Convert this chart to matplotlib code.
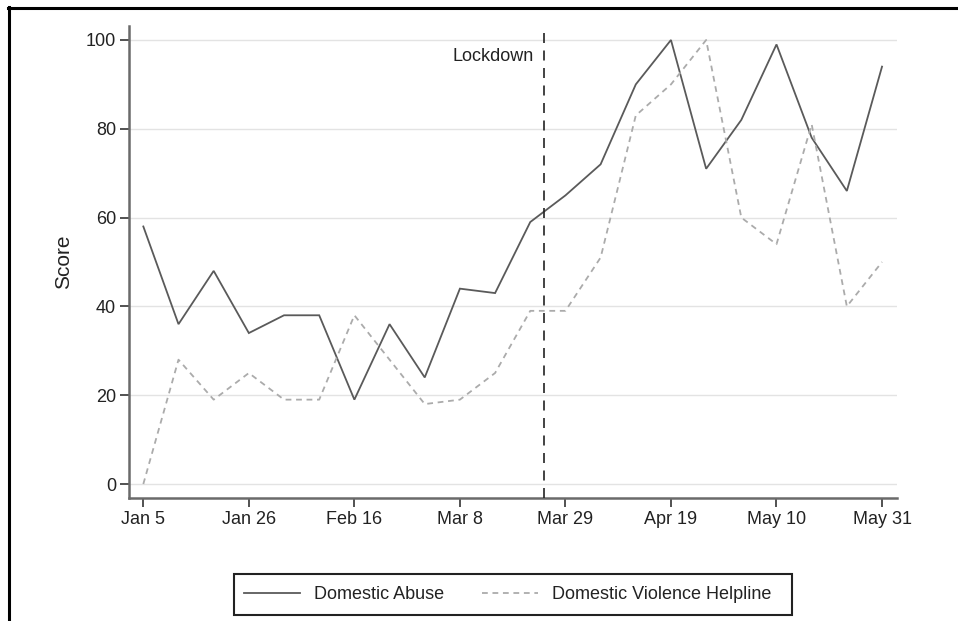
import matplotlib
matplotlib.use("Agg")
import matplotlib.pyplot as plt
import matplotlib.dates as mdates
from matplotlib.lines import Line2D
from matplotlib.patches import Rectangle
import pandas as pd

# ---- data ----
weeks = pd.date_range("2020-01-05", "2020-05-31", freq="7D")
domestic_abuse = [58, 36, 48, 34, 38, 38, 19, 36, 24, 44, 43, 59,
                  65, 72, 90, 100, 71, 82, 99, 78, 66, 94]
helpline = [0, 28, 19, 25, 19, 19, 38, 28, 18, 19, 25, 39,
            39, 51, 83, 90, 100, 60, 54, 81, 40, 50]
tick_dates = pd.to_datetime(["2020-01-05", "2020-01-26", "2020-02-16", "2020-03-08",
                             "2020-03-29", "2020-04-19", "2020-05-10", "2020-05-31"])
tick_labels = ["Jan 5", "Jan 26", "Feb 16", "Mar 8", "Mar 29", "Apr 19", "May 10", "May 31"]
y_ticks = [0, 20, 40, 60, 80, 100]
lockdown_date = pd.Timestamp("2020-03-24 20:00")
series_labels = ["Domestic Abuse", "Domestic Violence Helpline"]

plt.rcParams["font.family"] = ["Liberation Sans", "DejaVu Sans"]
FS = 13

W, H = 958, 621
fig = plt.figure(figsize=(W / 100, H / 100), dpi=100)
ax = fig.add_axes([129 / W, 1 - 498 / H, (897 - 129) / W, (498 - 26) / H])

ax.plot(weeks, domestic_abuse, color="#5a5a5a", lw=1.3, solid_joinstyle="miter",
        label=series_labels[0], zorder=3)
ax.plot(weeks, helpline, color="#ababab", lw=1.3, dashes=(3.2, 2.6),
        label=series_labels[1], zorder=3)

ax.axvline(lockdown_date, color="#222222", lw=1.2, dashes=(6, 4.5), zorder=4)
ax.annotate("Lockdown", xy=(mdates.date2num(lockdown_date), 0.935),
            xycoords=("data", "axes fraction"), xytext=(-7.5, 0),
            textcoords="offset points", ha="right", va="center",
            fontsize=FS, color="#222222")

x0 = mdates.date2num(weeks[0])
x1 = mdates.date2num(weeks[-1])
ax.set_xlim(x0 - 2.85, x1 + 2.98)
ax.set_ylim(-3.15, 103.15)

ax.set_xticks(tick_dates)
ax.set_xticklabels(tick_labels)
ax.set_yticks(y_ticks)
ax.set_yticklabels([str(v) for v in y_ticks])
ax.grid(axis="y", color="#e3e3e3", lw=1.0, zorder=0)
ax.set_axisbelow(True)

for s in ["top", "right"]:
    ax.spines[s].set_visible(False)
for s in ["left", "bottom"]:
    ax.spines[s].set_color("#6a6a6a")
    ax.spines[s].set_linewidth(1.8)

ax.tick_params(axis="both", direction="out", length=6.3, width=1.2,
               color="#333333", labelsize=FS, labelcolor="#222222", pad=3)

ax.set_ylabel("Score", fontsize=15, color="#222222")
ax.yaxis.set_label_coords((73 - 129) / 768, 0.5)

# legend (frame drawn separately)
leg = ax.legend(loc="center left", bbox_to_anchor=(234 / W, 1 - 594.5 / H),
                bbox_transform=fig.transFigure, ncol=2, fontsize=FS,
                frameon=False, handlelength=3.1, handletextpad=0.78,
                columnspacing=2.1, borderpad=0.55, borderaxespad=0)
for t in leg.get_texts():
    t.set_color("#222222")
fig.add_artist(Rectangle((234 / W, 1 - 615 / H), (792 - 234) / W, (615 - 574) / H,
                         transform=fig.transFigure, fill=False,
                         edgecolor="#222222", lw=1.5))

# outer frame lines (top and left)
fig.add_artist(Line2D([8 / W, 1.0], [1 - 7.5 / H, 1 - 7.5 / H],
                      transform=fig.transFigure, color="black", lw=2.2))
fig.add_artist(Line2D([8.5 / W, 8.5 / W], [0, 1 - 6.5 / H],
                      transform=fig.transFigure, color="black", lw=2.2))

fig.savefig("out.png", dpi=100, facecolor="white")
